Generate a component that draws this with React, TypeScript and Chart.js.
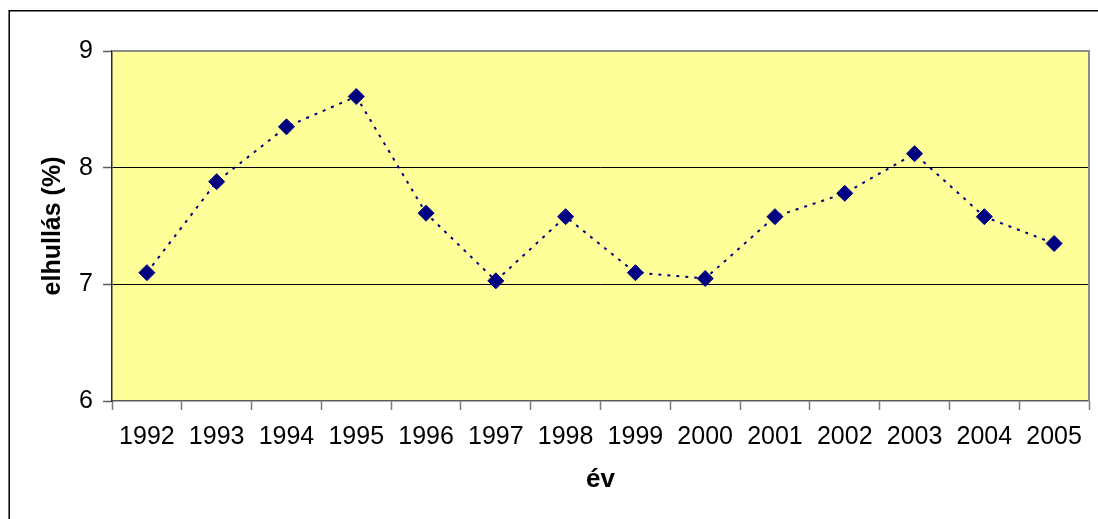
import React, { useEffect, useRef } from "react";
import { Chart, registerables } from "chart.js";

Chart.register(...registerables);

// Annual values (%), 1992–2005
const years = ["1992", "1993", "1994", "1995", "1996", "1997", "1998", "1999", "2000", "2001", "2002", "2003", "2004", "2005"];
const elhullas = [7.1, 7.88, 8.35, 8.61, 7.61, 7.03, 7.58, 7.1, 7.05, 7.58, 7.78, 8.12, 7.58, 7.35];
const yTicks = [6, 7, 8, 9];

const FONT = "'Liberation Sans', Arial, sans-serif";

// Yellow plot background with grey top/right edges, plus the outer frame
const framePlugin = {
  id: "frame",
  beforeDraw(chart: any) {
    const { ctx, chartArea: a } = chart;
    ctx.save();
    ctx.fillStyle = "#ffffff";
    ctx.fillRect(0, 0, chart.width, chart.height);
    ctx.fillStyle = "#FFFF99";
    ctx.fillRect(a.left, a.top, a.right - a.left, a.bottom - a.top);
    ctx.restore();
  },
  beforeDatasetsDraw(chart: any) {
    const { ctx, chartArea: a } = chart;
    ctx.save();
    ctx.strokeStyle = "#8c8c8c";
    ctx.lineWidth = 2;
    ctx.beginPath();
    ctx.moveTo(a.left, a.top);
    ctx.lineTo(a.right, a.top);
    ctx.lineTo(a.right, a.bottom);
    ctx.stroke();
    ctx.restore();
  },
  afterDraw(chart: any) {
    const { ctx } = chart;
    ctx.save();
    ctx.strokeStyle = "#000000";
    ctx.lineWidth = 1.5;
    ctx.beginPath();
    ctx.moveTo(9.2, chart.height + 10);
    ctx.lineTo(9.2, 10.8);
    ctx.lineTo(chart.width + 10, 10.8);
    ctx.stroke();
    ctx.restore();
  },
};

export default function App() {
  const canvasRef = useRef<HTMLCanvasElement | null>(null);

  useEffect(() => {
    if (!canvasRef.current) return;
    const chart = new Chart(canvasRef.current, {
      type: "line",
      data: {
        labels: years,
        datasets: [
          {
            label: "elhullás (%)",
            data: elhullas,
            borderColor: "#000080",
            backgroundColor: "#000080",
            borderWidth: 2,
            borderDash: [3, 6],
            pointStyle: "rectRot",
            pointRadius: 8,
            pointBorderWidth: 1,
            pointBackgroundColor: "#000080",
            pointBorderColor: "#000080",
            tension: 0,
            fill: false,
          },
        ],
      },
      options: {
        responsive: false,
        animation: false,
        devicePixelRatio: 1,
        layout: { padding: { top: 51, right: 9, left: 0, bottom: 0 } },
        plugins: {
          legend: { display: false },
          tooltip: { enabled: false },
        },
        scales: {
          x: {
            type: "category",
            offset: true,
            afterFit(scale: any) {
              scale.height = 118;
            },
            grid: {
              offset: true,
              drawOnChartArea: false,
              drawTicks: true,
              tickLength: 9,
              tickColor: "#7a7a7a",
              tickWidth: 1.5,
            },
            border: { display: true, color: "#5a5a5a", width: 1.5 },
            ticks: {
              color: "#000",
              padding: 12,
              maxRotation: 0,
              autoSkip: false,
              font: { family: FONT, size: 25 },
            },
            title: {
              display: true,
              text: "év",
              color: "#000",
              padding: { top: 0, bottom: 24 },
              font: { family: FONT, size: 26, weight: "bold" },
            },
          },
          y: {
            min: 6,
            max: 9,
            afterFit(scale: any) {
              scale.width = 112;
            },
            afterBuildTicks(scale: any) {
              scale.ticks = yTicks.map((v) => ({ value: v }));
            },
            grid: {
              color: (c: any) => (c.tick && (c.tick.value === 7 || c.tick.value === 8) ? "#000000" : "rgba(0,0,0,0)"),
              lineWidth: 1,
              drawTicks: true,
              tickLength: 9,
              tickColor: "#5a5a5a",
              tickWidth: 1.5,
            },
            border: { display: true, color: "#2a2a2a", width: 1.5 },
            ticks: {
              color: "#000",
              padding: 10,
              font: { family: FONT, size: 25 },
            },
            title: {
              display: true,
              text: "elhullás (%)",
              color: "#000",
              padding: { top: 38, bottom: 0 },
              font: { family: FONT, size: 25, weight: "bold" },
            },
          },
        },
      },
      plugins: [framePlugin],
    });
    return () => chart.destroy();
  }, []);

  return (
    <div style={{ position: "fixed", left: 0, top: 0, width: 1098, height: 519 }}>
      <canvas ref={canvasRef} width={1098} height={519} />
    </div>
  );
}
